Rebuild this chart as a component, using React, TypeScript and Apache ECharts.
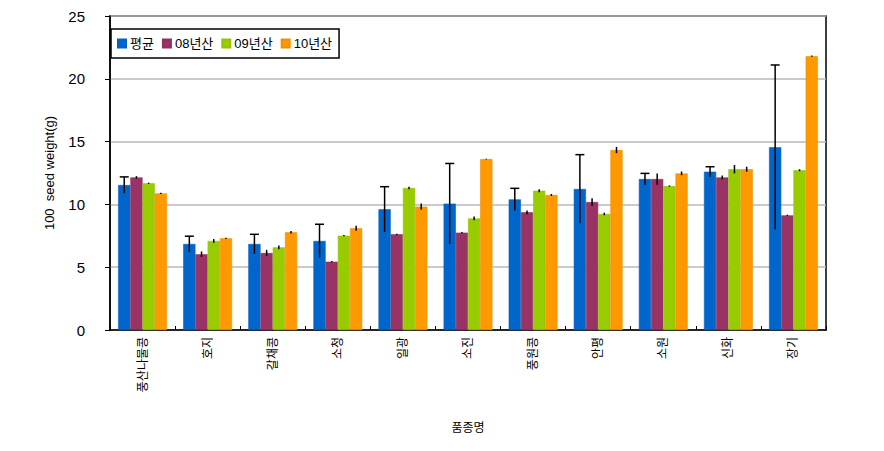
import React, { useEffect, useRef } from "react";
import * as echarts from "echarts";

const categories = ["풍산나물콩", "호지", "갈채콩", "소청", "일광", "소진", "풍원콩", "안평", "소원", "신화", "장기"];
const seriesNames = ["평균", "08년산", "09년산", "10년산"];
const meanVals = [11.54, 6.85, 6.85, 7.09, 9.61, 10.06, 10.4, 11.23, 12.02, 12.6, 14.55];
const y08Vals = [12.15, 6.03, 6.13, 5.44, 7.62, 7.75, 9.37, 10.19, 12.02, 12.15, 9.13];
const y09Vals = [11.68, 7.09, 6.58, 7.51, 11.31, 8.89, 11.09, 9.24, 11.46, 12.8, 12.72];
const y10Vals = [10.88, 7.3, 7.78, 8.1, 9.82, 13.61, 10.75, 14.33, 12.47, 12.8, 21.8];
const meanErr = [0.65, 0.62, 0.77, 1.33, 1.8, 3.2, 0.88, 2.73, 0.45, 0.4, 6.55];
const y08Err = [0.1, 0.22, 0.25, 0.05, 0.05, 0.05, 0.15, 0.3, 0.45, 0.15, 0.05];
const y09Err = [0.05, 0.15, 0.15, 0.05, 0.1, 0.15, 0.12, 0.1, 0.05, 0.33, 0.08];
const y10Err = [0.05, 0.05, 0.1, 0.2, 0.25, 0.03, 0.08, 0.25, 0.15, 0.2, 0.05];
const yTicks = [0, 5, 10, 15, 20, 25];

const colors = ["#0066CC", "#993366", "#99CC00", "#FF9900"];
const borderColors = ["#0062c4", "#90305f", "#94c400", "#f09000"];
const FONT = "'Liberation Sans', 'Noto Sans CJK KR', sans-serif";
const GAP = 0.25;

export default function App() {
  const ref = useRef<HTMLDivElement>(null);
  useEffect(() => {
    if (!ref.current) return;
    const chart = echarts.init(ref.current, null, { renderer: "svg" });
    const vals = [meanVals, y08Vals, y09Vals, y10Vals];
    const errs = [meanErr, y08Err, y09Err, y10Err];
    const barSeries = vals.map((v, i) => ({
      name: seriesNames[i],
      type: "bar",
      data: v,
      barGap: "0%",
      barCategoryGap: GAP * 100 + "%",
      itemStyle: { color: colors[i], borderColor: borderColors[i], borderWidth: 0.6 },
      z: 2,
    }));
    const errSeries = errs.map((e, si) => ({
      name: "err" + si,
      type: "custom",
      z: 5,
      data: e.map((ev, k) => [k, vals[si][k], ev]),
      renderItem: (params: any, api: any) => {
        const x = api.value(0);
        const v = api.value(1);
        const er = api.value(2);
        const band = api.size([1, 0])[0];
        const groupW = band * (1 - GAP);
        const barW = groupW / 4;
        const c = api.coord([x, v]);
        const cx = c[0] - groupW / 2 + barW * (si + 0.5);
        const top = api.coord([x, v + er])[1];
        const bot = api.coord([x, v - er])[1];
        const children: any[] = [
          { type: "line", shape: { x1: cx, y1: top, x2: cx, y2: bot }, style: { stroke: "#000", lineWidth: 1.5 } },
        ];
        if (si === 0) {
          children.push({ type: "line", shape: { x1: cx - 4.5, y1: top, x2: cx + 4.5, y2: top }, style: { stroke: "#000", lineWidth: 1.5 } });
        }
        return { type: "group", children };
      },
    }));
    chart.setOption({
      animation: false,
      backgroundColor: "#fff",
      textStyle: { fontFamily: FONT },
      grid: { left: 110, top: 16, width: 716, height: 314, show: true, borderColor: "#000", borderWidth: 1.5, backgroundColor: "transparent" },
      legend: {
        data: seriesNames,
        left: 111,
        top: 29,
        orient: "horizontal",
        icon: "rect",
        itemWidth: 8,
        itemHeight: 8,
        itemGap: 8,
        padding: [8, 7, 8, 6],
        borderColor: "#000",
        borderWidth: 1.5,
        backgroundColor: "#fff",
        textStyle: { fontSize: 13, color: "#000", fontFamily: FONT, padding: [0, 0, 0, -1] },
      },
      xAxis: {
        type: "category",
        data: categories,
        name: "품종명",
        nameLocation: "middle",
        nameGap: 92,
        nameTextStyle: { fontSize: 12, color: "#000", fontFamily: FONT },
        axisLine: { lineStyle: { color: "#000", width: 1.5 } },
        axisTick: { show: true, inside: true, length: 4, lineStyle: { color: "#000" } },
        axisLabel: { rotate: 90, interval: 0, fontSize: 12, color: "#000", margin: 7, fontFamily: FONT },
      },
      yAxis: {
        type: "value",
        min: yTicks[0],
        max: yTicks[yTicks.length - 1],
        interval: 5,
        name: "100  seed weight(g)",
        nameLocation: "middle",
        nameGap: 54,
        nameRotate: 90,
        nameTextStyle: { fontSize: 13, color: "#000", fontFamily: FONT },
        axisLine: { show: true, lineStyle: { color: "#000", width: 1.5 } },
        axisTick: { show: true, inside: false, length: 5, lineStyle: { color: "#000" } },
        axisLabel: { fontSize: 15, color: "#000", margin: 25, fontFamily: FONT },
        splitLine: { show: true, lineStyle: { color: "#b8b8b8", width: 1.5 } },
      },
      series: [...barSeries, ...errSeries],
    });
    return () => chart.dispose();
  }, []);
  return <div ref={ref} style={{ position: "absolute", left: 0, top: 0, width: 884, height: 451 }} />;
}
